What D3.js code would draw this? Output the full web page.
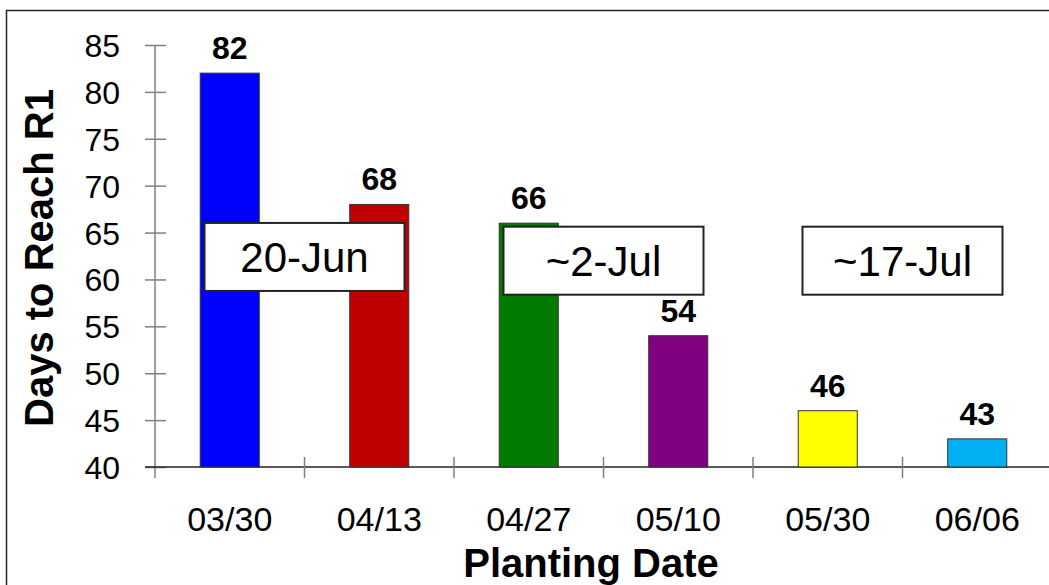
<!DOCTYPE html>
<html>
<head>
<meta charset="utf-8">
<script src="https://cdn.jsdelivr.net/npm/d3@7"></script>
<style>
  html, body { margin: 0; padding: 0; background: #fff; }
  svg { display: block; font-family: Arial, "Liberation Sans", sans-serif; }
</style>
</head>
<body>
<svg id="chart" width="1049" height="585"></svg>
<script>
// Planting dates and the days each took to reach R1
const plantingDates = ["03/30", "04/13", "04/27", "05/10", "05/30", "06/06"];
const daysToR1 = [82, 68, 66, 54, 46, 43];
const barColors = ["#0000FF", "#C00000", "#007A00", "#800080", "#FFFF00", "#00B0F0"];
const yTicks = [40, 45, 50, 55, 60, 65, 70, 75, 80, 85];

// Approximate R1 calendar dates, each sitting between two planting dates
const calloutLabels = ["20-Jun", "~2-Jul", "~17-Jul"];
const calloutAfter = ["03/30", "04/27", "05/30"];
const calloutLevel = [62.4, 62.0, 62.0];

const svg = d3.select("#chart");
const W = 1049, H = 585;

// Outer frame (top and left edges visible)
svg.append("path")
  .attr("d", `M6.5,${H} L6.5,10.5 L${W},10.5`)
  .attr("fill", "none").attr("stroke", "#222").attr("stroke-width", 1.5);

const x = d3.scaleBand().domain(plantingDates).range([155, 1052]).paddingInner(0).paddingOuter(0);
const y = d3.scaleLinear().domain([40, 85]).range([467, 45]);
const barW = x.bandwidth() * 0.395;

// Y axis
const yAxis = svg.append("g").attr("transform", "translate(155,0)")
  .call(d3.axisLeft(y).tickValues(yTicks).tickSize(0).tickPadding(35));
yAxis.select(".domain").remove();
yAxis.selectAll("text")
  .attr("font-size", 32).attr("fill", "#000").attr("dy", "0.36em")
  .attr("font-family", "Arial, 'Liberation Sans', sans-serif");
yAxis.append("line")
  .attr("x1", 0).attr("x2", 0).attr("y1", y(85)).attr("y2", y(40) + 11)
  .attr("stroke", "#808080").attr("stroke-width", 1.5);
yAxis.selectAll(".tick").append("line")
  .attr("x1", -10).attr("x2", 11).attr("y1", 0).attr("y2", 0)
  .attr("stroke", "#808080").attr("stroke-width", 1.5);

// X axis line and boundary ticks
svg.append("line")
  .attr("x1", 145).attr("x2", W).attr("y1", y(40)).attr("y2", y(40))
  .attr("stroke", "#222").attr("stroke-width", 1.5);
const bounds = plantingDates.map(d => x(d)).concat([x(plantingDates[plantingDates.length - 1]) + x.step()]);
svg.selectAll("line.xbound").data(bounds.slice(1)).join("line")
  .attr("class", "xbound")
  .attr("x1", d => d).attr("x2", d => d)
  .attr("y1", y(40) - 10).attr("y2", y(40) + 11)
  .attr("stroke", "#808080").attr("stroke-width", 1.5);

const xAxis = svg.append("g").attr("transform", `translate(0,${y(40)})`)
  .call(d3.axisBottom(x).tickSize(0).tickPadding(40));
xAxis.select(".domain").remove();
xAxis.selectAll("text")
  .attr("font-size", 34).attr("fill", "#000").attr("dy", "0.71em")
  .attr("font-family", "Arial, 'Liberation Sans', sans-serif");

// Bars
const data = plantingDates.map((d, i) => ({ date: d, days: daysToR1[i], color: barColors[i] }));
svg.selectAll("rect.bar").data(data).join("rect")
  .attr("class", "bar")
  .attr("x", d => x(d.date) + (x.bandwidth() - barW) / 2)
  .attr("width", barW)
  .attr("y", d => y(d.days))
  .attr("height", d => y(40) - y(d.days))
  .attr("fill", d => d.color)
  .attr("stroke", "#333").attr("stroke-width", 1);

// Value labels
svg.selectAll("text.val").data(data).join("text")
  .attr("class", "val")
  .attr("x", d => x(d.date) + x.bandwidth() / 2)
  .attr("y", d => y(d.days) - 14)
  .attr("text-anchor", "middle")
  .attr("font-size", 32).attr("font-weight", "bold").attr("fill", "#000")
  .text(d => d.days);

// Callout boxes
const callouts = calloutLabels.map((t, i) => ({
  text: t, cx: x(calloutAfter[i]) + x.step(), cy: y(calloutLevel[i])
}));
const cg = svg.selectAll("g.callout").data(callouts).join("g")
  .attr("class", "callout")
  .attr("transform", d => `translate(${d.cx},${d.cy})`);
cg.append("rect")
  .attr("x", -100).attr("y", -34).attr("width", 200).attr("height", 68)
  .attr("fill", "#fff").attr("stroke", "#222").attr("stroke-width", 2);
cg.append("text")
  .attr("text-anchor", "middle").attr("y", 15)
  .attr("font-size", 42).attr("fill", "#000")
  .text(d => d.text);

// Axis titles
svg.append("text")
  .attr("x", 591).attr("y", 577)
  .attr("text-anchor", "middle")
  .attr("font-size", 40).attr("font-weight", "bold").attr("fill", "#000")
  .text("Planting Date");

svg.append("text")
  .attr("transform", "translate(53,258) rotate(-90)")
  .attr("text-anchor", "middle")
  .attr("font-size", 40).attr("font-weight", "bold").attr("fill", "#000")
  .text("Days to Reach R1");
</script>
</body>
</html>
